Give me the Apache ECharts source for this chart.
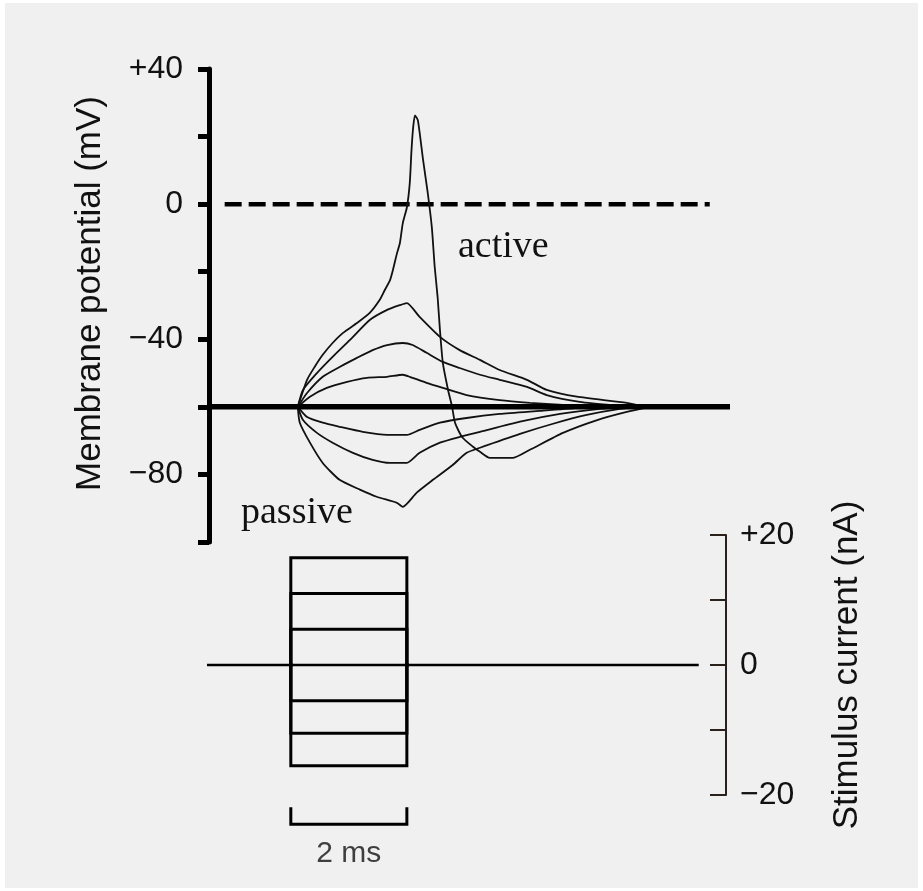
<!DOCTYPE html>
<html><head><meta charset="utf-8">
<script src="https://cdn.jsdelivr.net/npm/echarts/dist/echarts.min.js"></script>
<style>html,body{margin:0;padding:0;background:#fff;}#c{width:923px;height:891px;}</style>
</head><body><div id="c"></div>
<script>
// ---- data (time in ms, potential in mV, current in nA) ----
const timeRange = [-1.41, 7.5];
const restingPotential = -60;
const restLineT = [-1.41, 7.57];
const zeroLineT = [-1.14, 7.22];
const potentialRange = [-100, 40];
const potentialTicks = [40, 0, -40, -80];
const potentialTickLabels = ['+40', '0', '−40', '−80'];
const currentRange = [-20, 20];
const currentTicks = [20, 0, -20];
const currentTickLabels = ['+20', '0', '−20'];
const stimulusOn = 0, stimulusOff = 2;
const stimulusCurrents = [16.5, 11, 5.5, -5.5, -10.5, -15.5];
const currentBaselineT = [-1.48, 7.03];
const scaleBarT = [0, 2];
const scaleBarI = [-21.9, -24.5];
const scaleBarLabel = '2 ms';

const traceActive = [[0.12,-60],[0.28,-52.0],[0.41,-48.2],[0.55,-44.6],[0.72,-41.1],[0.90,-38.1],[1.14,-35.2],[1.36,-32.2],[1.53,-28.4],[1.62,-25.4],[1.71,-22.5],[1.76,-19.5],[1.83,-14.5],[1.88,-11.5],[1.93,-5.6],[2.0,-1.0],[2.05,6.2],[2.08,16],[2.11,23],[2.14,26.3],[2.19,24.8],[2.28,13.0],[2.36,3.3],[2.43,-6.8],[2.48,-18.6],[2.53,-27.5],[2.57,-37.2],[2.62,-47.0],[2.71,-55.0],[2.78,-60.0],[2.83,-64.7],[2.95,-68.9],[3.14,-71.8],[3.26,-73.3],[3.43,-75.1],[3.83,-75.1],[4.12,-72.7],[4.69,-67.7],[5.28,-63.9],[5.79,-61.5],[6.19,-60]];
const traceDep3 = [[0.12,-60],[0.21,-55.0],[0.45,-50.0],[0.72,-45.2],[1.02,-40.2],[1.36,-34.3],[1.66,-31.3],[1.88,-29.9],[2.0,-29.3],[2.22,-33.4],[2.57,-39.3],[2.91,-43.2],[3.26,-46.1],[3.60,-49.1],[4.07,-52.0],[4.41,-55.0],[4.93,-57.0],[5.79,-58.8],[6.1,-60]];
const traceDep2 = [[0.12,-60],[0.28,-55.9],[0.55,-51.1],[0.84,-48.2],[1.14,-45.5],[1.41,-43.2],[1.66,-41.7],[1.93,-41.1],[2.10,-41.7],[2.34,-44.0],[2.62,-46.7],[2.91,-48.5],[3.26,-50.5],[3.60,-52.0],[4.07,-54.1],[4.41,-56.5],[4.98,-58.5],[5.67,-59.7],[5.93,-60]];
const traceDep1 = [[0.12,-60],[0.33,-57.0],[0.62,-54.4],[0.97,-52.6],[1.31,-51.4],[1.66,-51.1],[1.93,-50.5],[2.05,-51.1],[2.34,-52.9],[2.62,-54.4],[3.03,-56.5],[3.60,-58.0],[4.12,-58.8],[4.69,-59.4],[5.33,-60]];
const traceHyp1 = [[0.12,-60],[0.28,-63.0],[0.55,-64.7],[0.84,-65.9],[1.24,-67.4],[1.66,-68.3],[2.0,-68.3],[2.22,-66.8],[2.57,-64.7],[3.03,-63.3],[3.60,-62.1],[4.29,-61.2],[4.98,-60.3],[5.5,-60]];
const traceHyp2 = [[0.12,-60],[0.21,-63.9],[0.45,-67.7],[0.72,-70.6],[1.07,-73.6],[1.41,-75.7],[1.71,-76.6],[2.0,-76.6],[2.22,-73.6],[2.57,-70.6],[2.91,-68.9],[3.26,-67.4],[3.95,-64.4],[4.64,-62.1],[5.33,-60.6],[5.84,-60]];
const traceHyp3 = [[0.12,-60],[0.155,-64.7],[0.33,-70.6],[0.55,-76.6],[0.84,-81.6],[1.19,-84.5],[1.48,-86.6],[1.83,-88.4],[1.93,-89.6],[2.17,-85.4],[2.45,-81.6],[2.79,-77.2],[3.03,-73.6],[3.26,-72.1],[3.95,-68.0],[4.52,-65.0],[5.10,-62.4],[5.67,-60.6],[6.02,-60]];
const traces = [traceActive, traceDep3, traceDep2, traceDep1, traceHyp1, traceHyp2, traceHyp3];

// ---- chart ----
const SANS = '"Liberation Sans", Arial, Helvetica, sans-serif';
const SERIF = '"Liberation Serif", "Times New Roman", serif';
const chart = echarts.init(document.getElementById('c'), null, {renderer: 'canvas'});

function lookupLabel(values, labels) {
  return function (v) {
    const i = values.findIndex(t => Math.abs(t - v) < 1e-6);
    return i >= 0 ? labels[i] : '';
  };
}

const series = [];
traces.forEach((tr) => {
  series.push({
    type: 'line', xAxisIndex: 0, yAxisIndex: 0, data: tr,
    showSymbol: false, symbol: 'none', smooth: 0.2, clip: false,
    lineStyle: {color: '#111', width: 1.8}, z: 3, silent: true
  });
});
series.push({
  type: 'line', xAxisIndex: 0, yAxisIndex: 0,
  data: [[restLineT[0], restingPotential], [restLineT[1], restingPotential]],
  symbol: 'none', clip: false, lineStyle: {color: '#000', width: 5.5}, z: 5, silent: true
});
series.push({
  type: 'line', xAxisIndex: 0, yAxisIndex: 0,
  data: [[zeroLineT[0], 0], [zeroLineT[1], 0]],
  symbol: 'none', clip: false, lineStyle: {color: '#000', width: 4.5, type: [17, 7]}, z: 2, silent: true
});
// stimulus current steps
series.push({
  type: 'line', xAxisIndex: 1, yAxisIndex: 1,
  data: [[currentBaselineT[0], 0], [currentBaselineT[1], 0]],
  symbol: 'none', clip: false, lineStyle: {color: '#000', width: 2.5}, z: 3, silent: true
});
stimulusCurrents.forEach(I => {
  series.push({
    type: 'line', xAxisIndex: 1, yAxisIndex: 1,
    data: [[stimulusOn, 0], [stimulusOn, I], [stimulusOff, I], [stimulusOff, 0]],
    symbol: 'none', clip: false, lineStyle: {color: '#000', width: 3, join: 'miter', cap: 'square'}, z: 4, silent: true
  });
});
// scale bar
series.push({
  type: 'line', xAxisIndex: 1, yAxisIndex: 1,
  data: [[scaleBarT[0], scaleBarI[0]], [scaleBarT[0], scaleBarI[1]], [scaleBarT[1], scaleBarI[1]], [scaleBarT[1], scaleBarI[0]]],
  symbol: 'none', clip: false, lineStyle: {color: '#000', width: 3, join: 'miter'}, z: 4, silent: true
});
series.push({
  type: 'scatter', xAxisIndex: 1, yAxisIndex: 1,
  data: [[(scaleBarT[0] + scaleBarT[1]) / 2, scaleBarI[1]]],
  symbolSize: 0, clip: false, silent: true,
  label: {show: true, position: 'bottom', distance: 14, formatter: scaleBarLabel,
          fontFamily: SANS, fontSize: 30, color: '#111'}
});

chart.setOption({
  backgroundColor: '#ffffff',
  animation: false,
  graphic: [
    {type: 'rect', shape: {x: 5, y: 3, width: 913, height: 885}, style: {fill: '#f0f0f0'}, z: -10, silent: true},
    {type: 'text', left: 458, top: 228, style: {text: 'active', font: '38px ' + SERIF, fill: '#111'}, z: 10},
    {type: 'text', left: 241, top: 494, style: {text: 'passive', font: '38px ' + SERIF, fill: '#111'}, z: 10}
  ],
  grid: [
    {left: 209, top: 69, width: 517, height: 473},
    {left: 209, top: 535, width: 517, height: 260}
  ],
  xAxis: [
    {type: 'value', gridIndex: 0, min: timeRange[0], max: timeRange[1], show: false},
    {type: 'value', gridIndex: 1, min: timeRange[0], max: timeRange[1], show: false}
  ],
  yAxis: [
    {
      type: 'value', gridIndex: 0, position: 'left', min: potentialRange[0], max: potentialRange[1], interval: 20,
      name: 'Membrane potential (mV)', nameLocation: 'middle', nameGap: 101,
      nameTextStyle: {fontFamily: SANS, fontSize: 35, color: '#111', padding: [0, 0, 0, 24]},
      axisLine: {show: true, onZero: false, lineStyle: {color: '#000', width: 5}},
      axisTick: {show: true, inside: false, length: 11, lineStyle: {color: '#000', width: 5}},
      axisLabel: {margin: 26, fontFamily: SANS, fontSize: 32, color: '#111',
                  formatter: lookupLabel(potentialTicks, potentialTickLabels)},
      splitLine: {show: false}
    },
    {
      type: 'value', gridIndex: 1, position: 'right', min: currentRange[0], max: currentRange[1], interval: 10,
      name: 'Stimulus current (nA)', nameLocation: 'middle', nameGap: 104,
      nameTextStyle: {fontFamily: SANS, fontSize: 35, color: '#111'},
      axisLine: {show: true, onZero: false, lineStyle: {color: '#2a211c', width: 2}},
      axisTick: {show: true, inside: true, length: 16, lineStyle: {color: '#2a211c', width: 2}},
      axisLabel: {margin: 14, fontFamily: SANS, fontSize: 32, color: '#111',
                  formatter: lookupLabel(currentTicks, currentTickLabels)},
      splitLine: {show: false}
    }
  ],
  series: series
});
</script></body></html>
